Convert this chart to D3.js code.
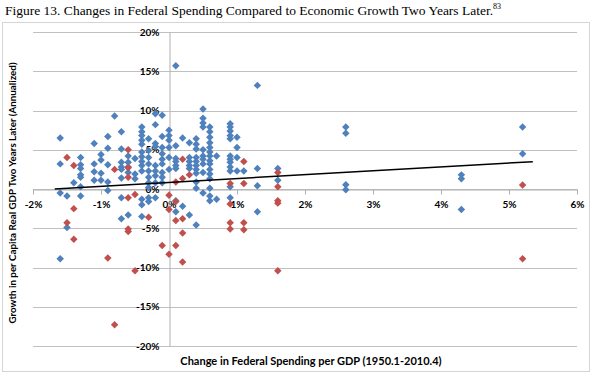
<!DOCTYPE html>
<html>
<head>
<meta charset="utf-8">
<script src="https://cdn.jsdelivr.net/npm/d3@7"></script>
<style>
  body { margin: 0; background: #fff; }
  .tick text { font-family: Lato, "Open Sans", sans-serif; font-weight: bold; font-size: 10px; fill: #000; }
  .axis-label { font-family: Lato, "Open Sans", sans-serif; font-weight: bold; fill: #000; }
</style>
</head>
<body>
<div id="chart-area"></div>
<script>
// SVG Size
var width = 600,
	height = 377;

// x = change in federal spending per GDP (%), y = growth two years later (%)
var bluePoints = [
	[-1.6, 6.5], [-1.6, 3.2], [-1.6, -0.5], [-1.6, -8.9],
	[-1.5, -0.9], [-1.5, -4.9],
	[-1.4, 0.8],
	[-1.3, 4.0], [-1.3, 3.1], [-1.3, 2.6], [-1.3, 1.8], [-1.3, 1.5], [-1.3, 0.3], [-1.3, -0.9],
	[-1.1, 5.8], [-1.1, 3.2], [-1.1, 2.2], [-1.1, 1.1],
	[-1.0, 4.4], [-1.0, 3.7], [-1.0, 2.0], [-1.0, 1.1],
	[-0.9, 6.7], [-0.9, 5.2], [-0.9, 3.1], [-0.9, 0.9], [-0.9, -0.2],
	[-0.8, 9.3],
	[-0.7, 7.3], [-0.7, 5.1], [-0.7, 3.4], [-0.7, 2.8], [-0.7, 2.5], [-0.7, 1.4], [-0.7, -1.1], [-0.7, -3.8],
	[-0.6, 4.2], [-0.6, 3.4], [-0.6, 2.8], [-0.6, 2.1], [-0.6, -3.3],
	[-0.5, 3.9], [-0.5, 1.9], [-0.5, 1.3],
	[-0.4, 7.9], [-0.4, 7.3], [-0.4, 6.8], [-0.4, 6.2], [-0.4, 5.7], [-0.4, 4.7], [-0.4, 4.1], [-0.4, 3.5], [-0.4, 3.0], [-0.4, 2.3], [-0.4, -1.3], [-0.4, -2.0], [-0.4, -3.5],
	[-0.3, 6.4], [-0.3, 4.9], [-0.3, 4.0], [-0.3, 3.2], [-0.3, 2.3], [-0.3, 1.5], [-0.3, 0.8], [-0.3, 0.2], [-0.3, -1.1], [-0.3, -1.6],
	[-0.2, 9.6], [-0.2, 8.2], [-0.2, 5.8], [-0.2, 5.4], [-0.2, 3.0], [-0.2, 2.3], [-0.2, 1.7], [-0.2, 0.8], [-0.2, -1.1],
	[-0.1, 9.4], [-0.1, 6.7], [-0.1, 5.3], [-0.1, 4.5], [-0.1, 3.8], [-0.1, 3.2], [-0.1, 2.1], [-0.1, 1.5], [-0.1, 0.8],
	[0.0, 7.5], [0.0, 6.8], [0.0, 6.2], [0.0, 5.3], [0.0, 4.0], [0.0, 2.5],
	[0.1, 15.7], [0.1, 5.5], [0.1, 3.9], [0.1, 3.5], [0.1, 3.0], [0.1, 2.6], [0.1, -1.5], [0.1, -2.9],
	[0.2, 6.5], [0.2, -2.2],
	[0.3, 5.9], [0.3, 4.0], [0.3, 3.5], [0.3, 3.0], [0.3, 2.6], [0.3, -3.3],
	[0.4, 6.4], [0.4, 5.7], [0.4, 5.1], [0.4, 4.0], [0.4, 3.5], [0.4, 3.0], [0.4, 2.5], [0.4, 2.0], [0.4, 0.9], [0.4, 0.1], [0.4, -4.6],
	[0.5, 10.2], [0.5, 9.0], [0.5, 8.4], [0.5, 7.9], [0.5, 5.0], [0.5, 4.2], [0.5, 3.8], [0.5, 3.2], [0.5, 2.1], [0.5, -0.5],
	[0.6, 7.9], [0.6, 7.3], [0.6, 6.6], [0.6, 5.9], [0.6, 5.3], [0.6, 4.7], [0.6, 4.2], [0.6, 3.6], [0.6, 3.2], [0.6, 2.5], [0.6, 1.9], [0.6, 1.3], [0.6, 0.1], [0.6, -0.9], [0.6, -1.5],
	[0.7, 4.2], [0.7, -1.3],
	[0.9, 8.3], [0.9, 7.9], [0.9, 7.4], [0.9, 6.8], [0.9, 6.4], [0.9, 4.2], [0.9, 3.8], [0.9, 3.4], [0.9, 2.8], [0.9, 2.3], [0.9, 0.3], [0.9, -1.1],
	[1.0, 6.6], [1.0, 5.3], [1.0, 4.0], [1.0, 2.3],
	[1.1, 2.3],
	[1.3, 13.2], [1.3, 2.6], [1.3, 0.4], [1.3, -2.9],
	[1.6, 2.6], [1.6, 1.1],
	[2.6, 7.9], [2.6, 7.1], [2.6, 0.55], [2.6, -0.1],
	[4.3, 1.8], [4.3, 1.3], [4.3, -2.6],
	[5.2, 7.9], [5.2, 4.5]
];

var redPoints = [
	[-1.5, 4.0], [-1.5, -4.3],
	[-1.4, 3.0], [-1.4, -2.5], [-1.4, -6.4],
	[-0.9, -8.8],
	[-0.8, 2.5], [-0.8, -17.3],
	[-0.6, 5.0], [-0.6, 2.7], [-0.6, 1.5], [-0.6, -1.1], [-0.6, -5.1], [-0.6, -5.4],
	[-0.5, -0.7], [-0.5, -10.4],
	[-0.3, -3.6],
	[-0.1, -7.2],
	[0.0, -0.8], [0.0, -2.6], [0.0, -8.3],
	[0.1, 0.9], [0.1, -1.6], [0.1, -4.0], [0.1, -7.2],
	[0.2, 3.8], [0.2, 1.35], [0.2, -3.8], [0.2, -5.6], [0.2, -9.3],
	[0.3, 1.8],
	[0.9, 0.7], [0.9, -1.9], [0.9, -4.3], [0.9, -5.1],
	[1.1, 3.5], [1.1, 0.7], [1.1, -4.3], [1.1, -5.2],
	[1.6, 2.1], [1.6, 0.3], [1.6, -1.5], [1.6, -1.8], [1.6, -10.4],
	[5.2, 0.5], [5.2, -8.9]
];

// linear trend line end points
var trendX = [-1.68, 5.35];
var trendY = [0.0, 3.48];

var xTicks = [-2, -1, 0, 1, 2, 3, 4, 5, 6];
var yTicks = [-20, -15, -10, -5, 0, 5, 10, 15, 20];

var titleText = "Figure 13. Changes in Federal Spending Compared to Economic Growth Two Years Later.";
var footnote = "83";
var xTitle = "Change in Federal Spending per GDP (1950.1-2010.4)";
var yTitle = "Growth in per Capita Real GDP Two Years Later (Annualized)";

var svg = d3.select("#chart-area").append("svg")
	.attr("width", width)
	.attr("height", height);

// title
var title = svg.append("text")
	.attr("x", 5)
	.attr("y", 15)
	.attr("font-family", "Liberation Serif, Times New Roman, serif")
	.attr("font-size", 13.5)
	.text(titleText);
title.append("tspan")
	.attr("font-size", 8)
	.attr("dy", -6)
	.text(footnote);

// chart frame
svg.append("rect")
	.attr("x", 2.5)
	.attr("y", 22.5)
	.attr("width", 587)
	.attr("height", 349)
	.attr("fill", "none")
	.attr("stroke", "#d4d4d4");

var xScale = d3.scaleLinear()
	.domain([-2, 6])
	.range([33, 577]);

var yScale = d3.scaleLinear()
	.domain([-20, 20])
	.range([346, 32]);

// gridlines
svg.append("g")
	.selectAll("line")
	.data(yTicks)
	.enter()
	.append("line")
	.attr("x1", xScale(-2))
	.attr("x2", xScale(6))
	.attr("y1", d => Math.round(yScale(d)) + 0.5)
	.attr("y2", d => Math.round(yScale(d)) + 0.5)
	.attr("stroke", "#c0c0c0");

// axes
var xAxis = d3.axisBottom(xScale)
	.tickValues(xTicks)
	.tickFormat(d => d + "%")
	.tickSize(5)
	.tickSizeOuter(0)
	.tickPadding(6);

var yAxis = d3.axisLeft(yScale)
	.tickValues(yTicks)
	.tickFormat(d => d + "%")
	.tickSize(0)
	.tickPadding(10);

var xAxisGroup = svg.append("g")
	.attr("class", "x-axis axis")
	.attr("transform", "translate(0," + (Math.round(yScale(0)) + 0.5) + ")")
	.call(xAxis);

var yAxisGroup = svg.append("g")
	.attr("class", "y-axis axis")
	.attr("transform", "translate(" + (Math.round(xScale(0)) + 0.5) + ",0)")
	.call(yAxis);

svg.selectAll(".axis path, .axis line").attr("stroke", "#b0b0b0");

// axis titles
svg.append("text")
	.attr("class", "axis-label")
	.attr("x", 311)
	.attr("y", 365)
	.attr("text-anchor", "middle")
	.attr("font-size", 11)
	.text(xTitle);

svg.append("text")
	.attr("class", "axis-label")
	.attr("transform", "translate(16,193) rotate(-90)")
	.attr("text-anchor", "middle")
	.attr("font-size", 9.8)
	.text(yTitle);

// markers
var diamond = d3.symbol().type(d3.symbolSquare).size(28);

svg.append("g")
	.selectAll("path")
	.data(bluePoints)
	.enter()
	.append("path")
	.attr("d", diamond)
	.attr("transform", d => "translate(" + xScale(d[0]) + "," + yScale(d[1]) + ") rotate(45)")
	.attr("fill", "#4F81BD");

svg.append("g")
	.selectAll("path")
	.data(redPoints)
	.enter()
	.append("path")
	.attr("d", diamond)
	.attr("transform", d => "translate(" + xScale(d[0]) + "," + yScale(d[1]) + ") rotate(45)")
	.attr("fill", "#C0504D");

// trend line
svg.append("line")
	.attr("x1", xScale(trendX[0]))
	.attr("y1", yScale(trendY[0]))
	.attr("x2", xScale(trendX[1]))
	.attr("y2", yScale(trendY[1]))
	.attr("stroke", "#000")
	.attr("stroke-width", 1.5);
</script>
</body>
</html>
